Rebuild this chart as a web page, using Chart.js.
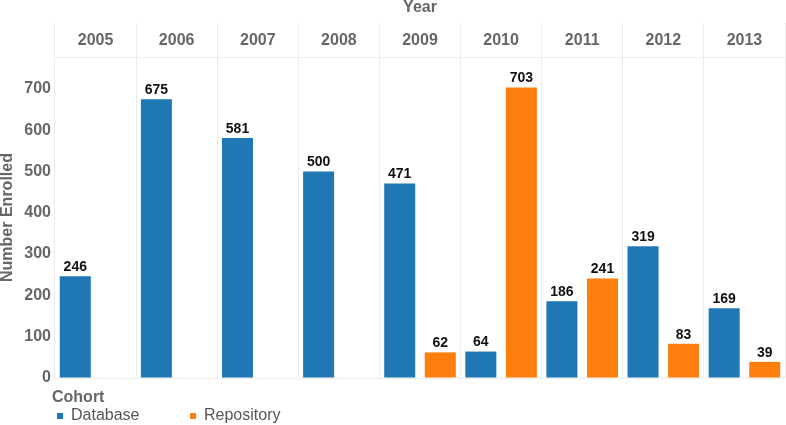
<!DOCTYPE html>
<html>
<head>
<meta charset="utf-8">
<script src="https://cdn.jsdelivr.net/npm/chart.js@4"></script>
<style>
  html, body { margin: 0; padding: 0; background: #fff; }
  #wrap { width: 786px; height: 425px; position: relative; }
</style>
</head>
<body>
<div id="wrap"><canvas id="c" width="786" height="425"></canvas></div>
<script>
const years = ['2005','2006','2007','2008','2009','2010','2011','2012','2013'];
const databaseValues = [246, 675, 581, 500, 471, 64, 186, 319, 169];
const repositoryValues = [null, null, null, null, 62, 703, 241, 83, 39];
const seriesNames = ['Database', 'Repository'];
const seriesColors = ['#1f77b4', '#ff7f0e'];
const yTicks = [0, 100, 200, 300, 400, 500, 600, 700];

const FONT = '"Liberation Sans", Arial, sans-serif';
const GRAY = '#666666';

const valueLabels = {
  id: 'valueLabels',
  afterDatasetsDraw(chart) {
    const ctx = chart.ctx;
    ctx.save();
    ctx.font = 'bold 14px ' + FONT;
    ctx.fillStyle = '#111';
    ctx.textAlign = 'center';
    ctx.textBaseline = 'bottom';
    chart.data.datasets.forEach((ds, di) => {
      const meta = chart.getDatasetMeta(di);
      meta.data.forEach((bar, i) => {
        const v = ds.data[i];
        if (v === null || v === undefined) return;
        ctx.fillText(String(v), bar.x, bar.y - 2);
      });
    });
    ctx.restore();
  }
};

const customLegend = {
  id: 'customLegend',
  afterDraw(chart) {
    const ctx = chart.ctx;
    ctx.save();
    ctx.font = 'bold 16px ' + FONT;
    ctx.fillStyle = GRAY;
    ctx.textAlign = 'left';
    ctx.textBaseline = 'middle';
    ctx.fillText('Cohort', 52, 398);
    const xs = [57, 190];
    ctx.font = '16px ' + FONT;
    chart.data.datasets.forEach((ds, i) => {
      ctx.fillStyle = ds.backgroundColor;
      ctx.fillRect(xs[i], 413, 6, 6);
      ctx.fillStyle = '#555';
      ctx.fillText(ds.label, xs[i] + 14, 416);
    });
    ctx.restore();
  }
};

new Chart(document.getElementById('c'), {
  type: 'bar',
  data: {
    labels: years,
    datasets: [
      { label: seriesNames[0], data: databaseValues, backgroundColor: seriesColors[0] },
      { label: seriesNames[1], data: repositoryValues, backgroundColor: seriesColors[1] }
    ]
  },
  options: {
    responsive: false,
    animation: false,
    devicePixelRatio: 1,
    layout: { padding: { left: 0, right: 1, top: 0, bottom: 47 } },
    datasets: { bar: { categoryPercentage: 1.0, barPercentage: 0.765 } },
    plugins: {
      legend: { display: false },
      tooltip: { enabled: false }
    },
    scales: {
      x: {
        position: 'top',
        offset: true,
        afterFit(scale) { scale.height = 57; },
        title: {
          display: true, text: 'Year', color: GRAY,
          font: { family: FONT, size: 16, weight: 'bold', lineHeight: 1 },
          padding: { top: 0, bottom: 0 }
        },
        grid: {
          offset: true, color: '#ececec', lineWidth: 1,
          drawTicks: true, tickLength: 34, tickColor: '#ececec'
        },
        border: { display: true, color: '#ececec' },
        ticks: {
          color: GRAY, padding: -27, maxRotation: 0,
          font: { family: FONT, size: 16, weight: 'bold' }
        }
      },
      y: {
        min: 0, max: 777,
        afterFit(scale) { scale.width = 55; },
        afterBuildTicks(scale) { scale.ticks = yTicks.map(v => ({ value: v })); },
        title: {
          display: true, text: 'Number Enrolled', color: GRAY,
          font: { family: FONT, size: 16, weight: 'bold', lineHeight: 1 },
          padding: { top: 0, bottom: 0 }
        },
        grid: {
          drawTicks: false,
          color: ctx => (ctx.tick && ctx.tick.value === 0 ? '#ececec' : 'rgba(0,0,0,0)')
        },
        border: { display: false },
        ticks: {
          color: GRAY, padding: 4,
          font: { family: FONT, size: 16, weight: 'bold' }
        }
      }
    }
  },
  plugins: [valueLabels, customLegend]
});
</script>
</body>
</html>
